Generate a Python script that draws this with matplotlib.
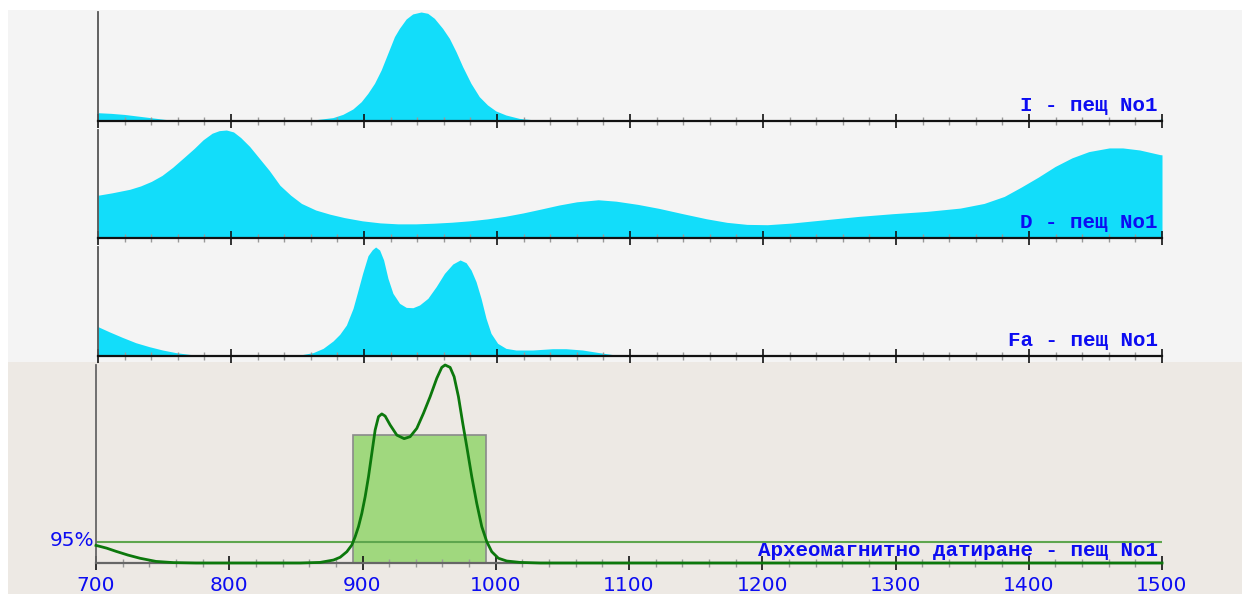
import matplotlib
matplotlib.use("Agg")
import matplotlib.pyplot as plt
from matplotlib.patches import Rectangle
from matplotlib.ticker import MultipleLocator

# ---- data -------------------------------------------------------------
years_I = [700, 710, 720, 730, 740, 750, 760, 780, 800, 820, 840, 852, 861.6, 876.6,
           884.1, 891.6, 897.9, 902.9, 907.9, 912.9, 917.9, 922.9, 926.6, 931.7, 936.6,
           942.9, 947.9, 952.9, 959.1, 964.2, 969.2, 974.2, 980.4, 986.7, 992.9, 999.2,
           1006.7, 1016.7, 1031.7, 1045, 1060, 1100, 1200, 1300, 1400, 1480, 1490, 1496,
           1500]
dens_I = [0.076, 0.07, 0.06, 0.045, 0.03, 0.015, 0.005, 0.0, 0.0, 0.0, 0.0, 0.003, 0.009,
          0.031, 0.061, 0.11, 0.177, 0.254, 0.346, 0.468, 0.621, 0.774, 0.85, 0.936,
          0.982, 1.0, 0.988, 0.942, 0.85, 0.758, 0.636, 0.498, 0.346, 0.223, 0.147, 0.092,
          0.055, 0.024, 0.006, 0.001, 0.0, 0.0, 0.0, 0.0, 0.0, 0.0, 0.003, 0.01, 0.02]

years_D = [700, 710.5, 723.9, 732, 740.1, 748.1, 756.2, 764.2, 772.3, 779, 785.8, 791.1,
           796.5, 801.9, 807.3, 814, 820.7, 828.8, 836.8, 844.9, 853, 863.7, 874.5, 885.2,
           898.7, 912.1, 925.5, 939, 952.4, 965.9, 979.3, 992.7, 1006.2, 1019.6, 1033.1,
           1046.5, 1059.9, 1076.1, 1089.5, 1106, 1121.9, 1139.7, 1157.5, 1172.8, 1188,
           1203.3, 1221.1, 1246.6, 1272, 1297.5, 1322.9, 1348.3, 1366.2, 1381.4, 1394.1,
           1406.9, 1419.6, 1432.3, 1445, 1460.3, 1470.5, 1483.2, 1498.5, 1500]
dens_D = [0.396, 0.418, 0.451, 0.482, 0.524, 0.579, 0.655, 0.741, 0.829, 0.909, 0.970,
          0.994, 1.0, 0.982, 0.930, 0.848, 0.747, 0.625, 0.488, 0.396, 0.320, 0.259, 0.220,
          0.189, 0.159, 0.140, 0.131, 0.131, 0.137, 0.146, 0.159, 0.177, 0.201, 0.232,
          0.268, 0.305, 0.335, 0.354, 0.341, 0.311, 0.274, 0.225, 0.178, 0.145, 0.126,
          0.123, 0.138, 0.169, 0.200, 0.225, 0.246, 0.277, 0.320, 0.385, 0.471, 0.563,
          0.662, 0.742, 0.800, 0.834, 0.834, 0.815, 0.772, 0.77]

years_F = [700, 708.3, 718.3, 728.4, 738.4, 748.5, 758.5, 768.6, 781.2, 793.7, 820, 839,
           851.75, 861.75, 869.25, 876.75, 881.75, 886.75, 891.75, 895, 899, 903, 906.25,
           908.75, 911.75, 914.75, 918, 921.75, 926.75, 931.75, 936.75, 941.75, 948,
           954.25, 960.5, 966.75, 972.25, 976.75, 980.5, 984.25, 988, 991.75, 995.5,
           1000.5, 1006.75, 1014.25, 1026.75, 1041.75, 1051.75, 1064.25, 1076.75, 1089.25,
           1101.75, 1200, 1500]
dens_F = [0.269, 0.223, 0.171, 0.122, 0.086, 0.055, 0.031, 0.015, 0.003, 0.0, 0.0, 0.003,
          0.009, 0.031, 0.070, 0.138, 0.199, 0.284, 0.437, 0.58, 0.76, 0.92, 0.975, 1.0,
          0.972, 0.881, 0.713, 0.575, 0.483, 0.446, 0.443, 0.468, 0.529, 0.636, 0.758,
          0.844, 0.881, 0.856, 0.789, 0.682, 0.529, 0.346, 0.208, 0.116, 0.070, 0.055,
          0.055, 0.067, 0.067, 0.055, 0.031, 0.009, 0.0, 0.0, 0.0]

years_A = [700, 708, 715, 724, 733, 745, 758, 775, 800, 853.25, 868.25, 878.25, 883.25,
           888.25, 892, 894.5, 897, 899.5, 902, 904.5, 907, 909.5, 912, 914.5, 917, 920.75,
           925.75, 931.25, 935.75, 940.75, 945.75, 950.75, 955.75, 959.5, 962, 965.75,
           968.75, 972, 975.25, 978.25, 982, 985.75, 989.5, 993.25, 997, 1002, 1008.25,
           1018.25, 1033.25, 1500]
dens_A = [0.089, 0.075, 0.059, 0.04, 0.024, 0.008, 0.002, 0.0, 0.0, 0.0, 0.003, 0.015,
          0.029, 0.057, 0.091, 0.133, 0.184, 0.251, 0.335, 0.436, 0.554, 0.672, 0.739,
          0.753, 0.742, 0.697, 0.646, 0.628, 0.638, 0.680, 0.756, 0.840, 0.933, 0.988, 1.0,
          0.988, 0.941, 0.840, 0.705, 0.588, 0.436, 0.301, 0.184, 0.108, 0.057, 0.024,
          0.010, 0.003, 0.0, 0.0]

panel_labels = ["I - пещ No1", "D - пещ No1", "Fa - пещ No1"]
dating_label = "Археомагнитно датиране - пещ No1"
interval_95 = [893, 993]
interval_height = 0.646
level_95 = 0.108
level_label = "95%"
x_range = [700, 1500]
tick_years = [700, 800, 900, 1000, 1100, 1200, 1300, 1400, 1500]

# ---- styling ----------------------------------------------------------
W, H = 1242, 594
CYAN = "#12ddfa"
BLUE = "#0c0cf2"
GRAY_BG = "#f4f4f4"
BEIGE_BG = "#ede9e4"
LABEL_FONT = dict(family="Liberation Mono", weight="bold", size=15, color=BLUE)

fig = plt.figure(figsize=(W / 100, H / 100), dpi=100)
fig.patch.set_facecolor("white")


def fx(px):
    return px / W


def fy(py):
    return 1 - py / H


# background bands
fig.patches.append(Rectangle((fx(8), fy(362)), fx(W - 8), (362 - 10) / H,
                             transform=fig.transFigure, facecolor=GRAY_BG,
                             edgecolor="none", zorder=-10))
fig.patches.append(Rectangle((fx(8), 0), fx(W - 8), (H - 362) / H,
                             transform=fig.transFigure, facecolor=BEIGE_BG,
                             edgecolor="none", zorder=-10))


def style_axis(ax, left_color="#555555"):
    ax.set_facecolor("none")
    for s in ("top", "right"):
        ax.spines[s].set_visible(False)
    ax.spines["left"].set_color(left_color)
    ax.spines["left"].set_linewidth(1.3)
    ax.spines["bottom"].set_color("#111111")
    ax.spines["bottom"].set_linewidth(1.6)
    ax.set_xlim(*x_range)
    ax.set_xticks(tick_years)
    ax.xaxis.set_minor_locator(MultipleLocator(20))
    ax.set_yticks([])
    ax.tick_params(axis="x", which="major", direction="inout", length=10,
                   width=1.2, color="#111111")
    ax.tick_params(axis="x", which="minor", direction="inout", length=5.5,
                   width=1.0, color="#999999")


# three density panels (top, bottom in pixel rows)
panel_rows = [(12, 121), (130, 238), (247, 356)]
series = [(years_I, dens_I), (years_D, dens_D), (years_F, dens_F)]
for (top, bot), (yrs, dens), label in zip(panel_rows, series, panel_labels):
    ax = fig.add_axes([fx(98), fy(bot), fx(1162 - 98), (bot - top) / H])
    style_axis(ax)
    ax.fill_between(yrs, 0, dens, color=CYAN, linewidth=0, zorder=1)
    ax.set_ylim(0, 1.0)
    ax.tick_params(axis="x", labelbottom=False)
    ax.annotate(label, xy=(1, 0), xycoords="axes fraction", xytext=(-3, 7.2),
                textcoords="offset points", ha="right", va="baseline",
                **LABEL_FONT, zorder=5)

# archaeomagnetic dating panel
axA = fig.add_axes([fx(96), fy(563), fx(1162 - 96), (563 - 365) / H])
style_axis(axA, left_color="#666666")
axA.spines["bottom"].set_color("#666666")
axA.set_ylim(0, 1.0)
axA.add_patch(Rectangle((interval_95[0], 0), interval_95[1] - interval_95[0],
                        interval_height, facecolor="#a0d87e", edgecolor="#8a8a8a",
                        linewidth=1.2, zorder=1))
axA.axhline(level_95, color="#5ea64e", linewidth=1.5, zorder=2)
axA.plot(years_A, dens_A, color="#0c780c", linewidth=2.0, zorder=3,
         clip_on=False, solid_joinstyle="round")
axA.plot([x_range[0], x_range[1]], [0, 0], color="#0a3a0a", linewidth=1.8,
         zorder=2.5)
axA.set_xticklabels([str(t) for t in tick_years])
axA.tick_params(axis="x", which="major", labelsize=14.5, labelcolor=BLUE, pad=4.5)
for lbl in axA.get_xticklabels():
    lbl.set_family("DejaVu Sans")
axA.annotate(level_label, xy=(x_range[0], level_95), xycoords="data",
             xytext=(-1, 1), textcoords="offset points", ha="right", va="center",
             fontsize=14.5, color=BLUE, family="DejaVu Sans")
axA.annotate(dating_label, xy=(1, 0), xycoords="axes fraction", xytext=(-3, 5),
             textcoords="offset points", ha="right", va="baseline",
             **LABEL_FONT, zorder=5)

fig.savefig("out.png", dpi=100)
